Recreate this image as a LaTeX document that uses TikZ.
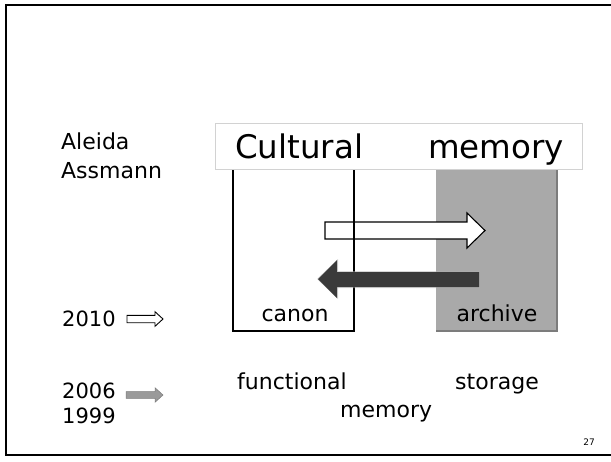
\documentclass[tikz,border=0pt]{standalone}
\usepackage{fontspec}
\setmainfont{DejaVu Sans}
\begin{document}
\begin{tikzpicture}[x=1pt,y=-1pt,
  txt/.style={inner sep=0pt,anchor=base west,font=\fontsize{22}{26}\selectfont},
  ctxt/.style={inner sep=0pt,anchor=base,font=\fontsize{22}{26}\selectfont},
  ttl/.style={inner sep=0pt,anchor=base west,font=\fontsize{32.5}{38}\selectfont},
  frameline/.style={line width=2.6pt,black},
  boxline/.style={line width=1.3pt,black},
  whitearrow/.style={fill=white,draw=black,line width=1.1pt,line join=miter},
  darkarrow/.style={fill=darkgrey,draw=none},
  greyarrow/.style={fill=midgrey,draw=midgrey!80!black,line width=0.5pt}]
\definecolor{darkgrey}{HTML}{3A3A3A}
\definecolor{midgrey}{HTML}{9A9A9A}
\definecolor{boxgrey}{HTML}{A9A9A9}
\definecolor{edgegrey}{HTML}{7C7C7C}
\definecolor{titleedge}{HTML}{D2D2D2}
\useasboundingbox (0,0) rectangle (611,461);
\fill[white] (0,0) rectangle (611,461);
% slide frame
\draw[frameline] (615,5) -- (6,5) -- (6,455) -- (615,455);
% archive box
\fill[boxgrey] (436,150) rectangle (558,331);
\draw[edgegrey,line width=1.6pt] (557.2,150) -- (557.2,331.2) -- (436,331.2);
% canon box
\draw[boxline] (233,150) rectangle (354,331);
% arrows
\draw[whitearrow] (325,222) -- (467,222) -- (467,213) -- (485,230.5) -- (467,248) -- (467,239) -- (325,239) -- cycle;
\draw[boxline] (354,213) -- (354,248);
\fill[darkgrey!40,opacity=0.5] (480,271) -- (338,271) -- (338,259) -- (317,279) -- (338,299) -- (338,288) -- (480,288) -- cycle;
\fill[darkarrow] (479,272) -- (337,272) -- (337,260) -- (318,279) -- (337,298) -- (337,287) -- (479,287) -- cycle;
% title box
\draw[titleedge,fill=white,line width=0.8pt] (215,123) rectangle (582,169);
\node[ttl] (cult) at (235,158) {Cultural};
\node[ttl] (mem) at (428,158) {memory};
% left texts
\node[txt] (aleida) at (61,149) {Aleida};
\node[txt] (assmann) at (61,178) {Assmann};
\node[txt,font=\fontsize{21}{25}\selectfont] (y2010) at (62,326) {2010};
\node[txt,font=\fontsize{21}{25}\selectfont] (y2006) at (62,398) {2006};
\node[txt,font=\fontsize{21}{25}\selectfont] (y1999) at (62,423) {1999};
% small arrows
\draw[whitearrow,line width=0.9pt] (127,315.3) -- (155,315.3) -- (155,311.7) -- (163,319) -- (155,326.3) -- (155,322.7) -- (127,322.7) -- cycle;
\draw[greyarrow] (126,391.7) -- (155,391.7) -- (155,387.7) -- (163,395) -- (155,402.3) -- (155,398.3) -- (126,398.3) -- cycle;
% box labels
\node[ctxt] (canon) at (295,321) {canon};
\node[ctxt] (archive) at (497,321) {archive};
% bottom labels
\node[txt] (func) at (237,389) {functional};
\node[txt] (stor) at (455,389) {storage};
\node[txt] (bmem) at (340,417) {memory};
\node[inner sep=0pt,anchor=base,font=\fontsize{9}{10}\selectfont] (pg) at (589,445) {27};
\end{tikzpicture}
\end{document}
